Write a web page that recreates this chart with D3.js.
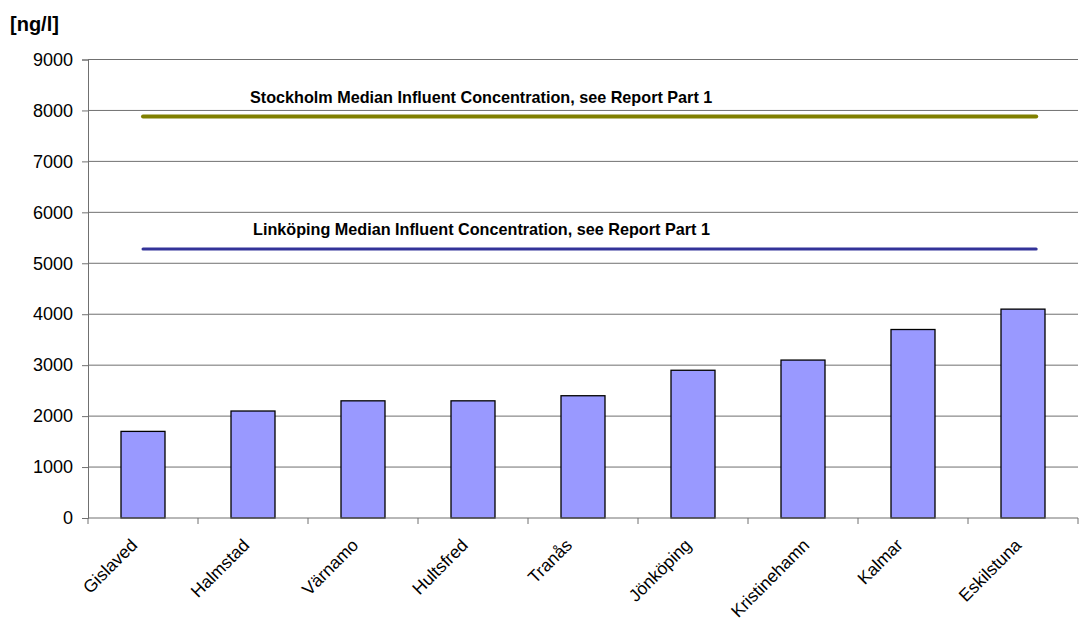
<!DOCTYPE html>
<html>
<head>
<meta charset="utf-8">
<script src="https://cdn.jsdelivr.net/npm/d3@7"></script>
<style>
  body { margin: 0; background: #fff; }
  svg { font-family: "Liberation Sans", Arial, sans-serif; }
</style>
</head>
<body>
<svg id="chart" width="1080" height="623"></svg>
<script>
const cities = ['Gislaved', 'Halmstad', 'Värnamo', 'Hultsfred', 'Tranås', 'Jönköping', 'Kristinehamn', 'Kalmar', 'Eskilstuna'];
const values = [1700, 2100, 2300, 2300, 2400, 2900, 3100, 3700, 4100];
const yTicks = [0, 1000, 2000, 3000, 4000, 5000, 6000, 7000, 8000, 9000];
const refNames = ['Stockholm Median Influent Concentration, see Report Part 1', 'Linköping Median Influent Concentration, see Report Part 1'];
const refValues = [7880, 5280];
const refColors = ['#808000', '#333399'];
const refSpan = [0, 8.12]; // category index range covered by reference lines

const margin = { top: 59.5, right: 2, bottom: 105, left: 88 };
const width = 1080 - margin.left - margin.right;
const height = 623 - margin.top - margin.bottom;

const svg = d3.select('#chart')
              .append('g')
              .attr('transform', `translate(${margin.left},${margin.top})`);

const x = d3.scaleBand()
            .domain(cities)
            .range([0, width])
            .paddingInner(0.6)
            .paddingOuter(0.3);

// continuous version of x for the reference lines and ticks
const xi = d3.scaleLinear()
             .domain([-0.5, cities.length - 0.5])
             .range([0, width]);

const y = d3.scaleLinear()
            .domain([0, 9000])
            .range([height, 0]);

// Gridlines
svg.append('g')
   .selectAll('line')
   .data(yTicks.slice(1))
   .enter()
   .append('line')
   .attr('x1', 0)
   .attr('x2', width)
   .attr('y1', d => y(d))
   .attr('y2', d => y(d))
   .attr('stroke', '#707070')
   .attr('stroke-width', 1);

// Y axis
const yAxis = svg.append('g')
   .call(d3.axisLeft(y).tickValues(yTicks).tickFormat(d3.format('d')).tickSize(6).tickPadding(9));
yAxis.select('.domain').attr('stroke', '#707070');
yAxis.selectAll('.tick line').attr('stroke', '#707070');
yAxis.selectAll('text')
     .attr('fill', '#000')
     .style('font-size', '18px')
     .style('font-family', '"Liberation Sans", Arial, sans-serif');

// Bars
svg.selectAll('.bar')
   .data(values)
   .enter()
   .append('rect')
   .attr('class', 'bar')
   .attr('x', (d, i) => x(cities[i]))
   .attr('y', d => y(d))
   .attr('width', x.bandwidth())
   .attr('height', d => height - y(d))
   .attr('fill', '#9999ff')
   .attr('stroke', '#000')
   .attr('stroke-width', 1.3);

// X axis
const xAxis = svg.append('g')
   .attr('transform', `translate(0,${height})`);
xAxis.append('line')
     .attr('x1', 0).attr('x2', width)
     .attr('stroke', '#707070');
xAxis.selectAll('.tk')
     .data(d3.range(cities.length + 1))
     .enter()
     .append('line')
     .attr('x1', d => xi(d - 0.5))
     .attr('x2', d => xi(d - 0.5))
     .attr('y1', 0)
     .attr('y2', 6)
     .attr('stroke', '#707070');
// rotated labels: top of the rotated box sits just below the axis
xAxis.selectAll('.lbl')
     .data(cities)
     .enter()
     .append('text')
     .attr('text-anchor', 'middle')
     .attr('dominant-baseline', 'central')
     .style('font-size', '17.5px')
     .text(d => d)
     .attr('transform', function(d) {
       const len = this.getComputedTextLength();
       const cx = x(d) + x.bandwidth() / 2 - 33;
       const cy = 19 + len * 0.3536 + 5;
       return `translate(${cx},${cy}) rotate(-45)`;
     });

// Reference lines
svg.selectAll('.ref')
   .data(refValues)
   .enter()
   .append('line')
   .attr('x1', xi(refSpan[0]))
   .attr('x2', xi(refSpan[1]))
   .attr('y1', d => y(d))
   .attr('y2', d => y(d))
   .attr('stroke', (d, i) => refColors[i])
   .attr('stroke-width', (d, i) => i === 0 ? 4 : 3)
   .attr('stroke-linecap', 'round');

svg.selectAll('.refLabel')
   .data(refNames)
   .enter()
   .append('text')
   .attr('x', (d, i) => i === 0 ? 162 : 165)
   .attr('y', (d, i) => y(refValues[i]) - 14)
   .style('font-size', '16.2px')
   .attr('font-weight', 'bold')
   .text(d => d);

// Unit label
d3.select('#chart').append('text')
  .attr('x', 10)
  .attr('y', 31)
  .style('font-size', '20px')
  .attr('font-weight', 'bold')
  .text('[ng/l]');
</script>
</body>
</html>
